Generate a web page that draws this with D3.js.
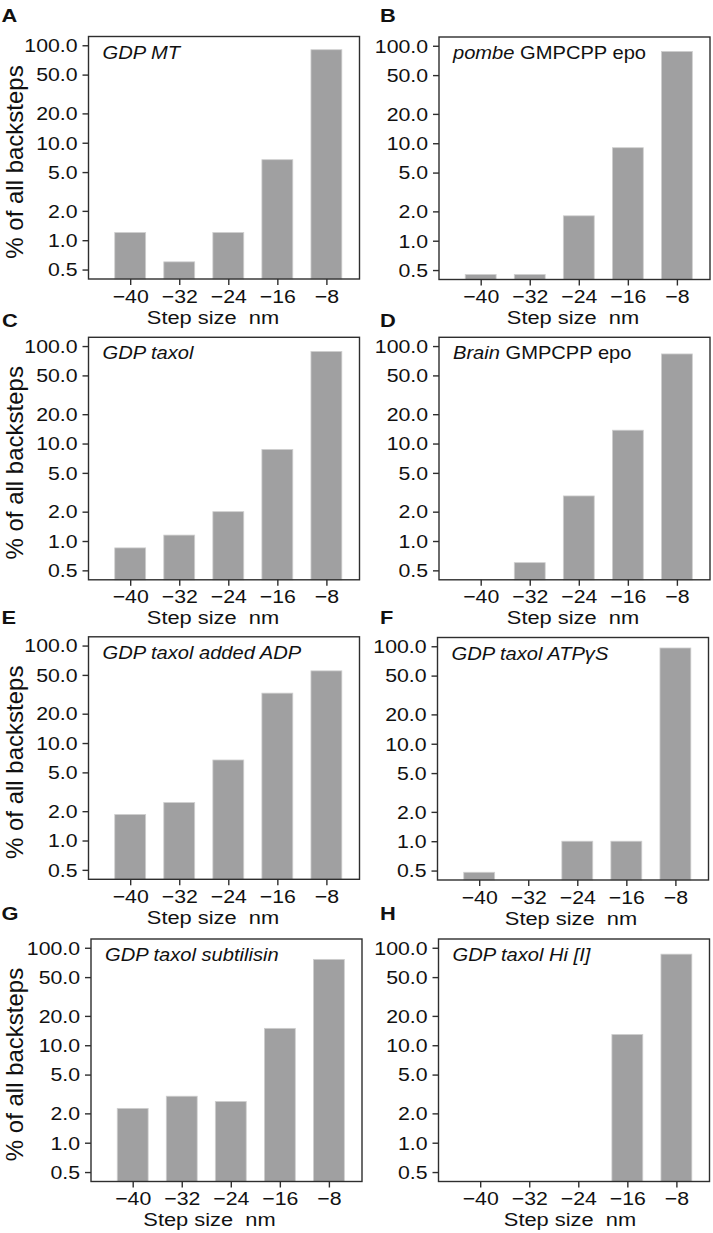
<!DOCTYPE html>
<html>
<head>
<meta charset="utf-8">
<script src="https://cdn.jsdelivr.net/npm/d3@7"></script>
<style>
  html, body { margin: 0; padding: 0; background: #fff; }
  svg { display: block; font-family: "Liberation Sans", Arial, Helvetica, sans-serif; }
</style>
</head>
<body>
<svg id="chart" width="713" height="1233"></svg>
<script>
// ---- data ----
const categories = [-40, -32, -24, -16, -8];
const yTickValues = [0.5, 1, 2, 5, 10, 20, 50, 100];
const yTickLabels = ["0.5", "1.0", "2.0", "5.0", "10.0", "20.0", "50.0", "100.0"];
const xTickLabels = ["\u221240", "\u221232", "\u221224", "\u221216", "\u22128"];
const panelLetters = ["A", "B", "C", "D", "E", "F", "G", "H"];
const xAxisTitle = "Step size  nm";
const yAxisTitle = "% of all backsteps";

// percent of all backsteps per step size (null = no bar)
const valuesA = [1.2, 0.6, 1.2, 6.7, 90];
const valuesB = [0.45, 0.45, 1.8, 9.0, 87.5];
const valuesC = [0.85, 1.15, 2.0, 8.7, 88];
const valuesD = [null, 0.6, 2.9, 13.7, 83];
const valuesE = [1.85, 2.45, 6.7, 32.5, 55];
const valuesF = [0.48, null, 1.0, 1.0, 96];
const valuesG = [2.25, 3.0, 2.65, 14.9, 76];
const valuesH = [null, null, null, 12.9, 86];

// panel titles: [text, italic?] segments
const titleA = [["GDP MT", true]];
const titleB = [["pombe", true], [" GMPCPP epo", false]];
const titleC = [["GDP taxol", true]];
const titleD = [["Brain", true], [" GMPCPP epo", false]];
const titleE = [["GDP taxol added ADP", true]];
const titleF = [["GDP taxol ATP\u03B3S", true]];
const titleG = [["GDP taxol subtilisin", true]];
const titleH = [["GDP taxol Hi [I]", true]];

const panelValues = [valuesA, valuesB, valuesC, valuesD, valuesE, valuesF, valuesG, valuesH];
const panelTitles = [titleA, titleB, titleC, titleD, titleE, titleF, titleG, titleH];

// ---- layout (positions, not data) ----
const W = 271, H = 242.5;
const SX = 1.15; // horizontal text stretch
const layout = [
  {left: 88.5, top: 36.5, lx: 1.5, ly: 22,    xl: 213},
  {left: 439,  top: 37,   lx: 380, ly: 22,    xl: 573},
  {left: 88.5, top: 337.3,lx: 2,   ly: 327,   xl: 213},
  {left: 439,  top: 337.3,lx: 380, ly: 327,   xl: 573},
  {left: 88.5, top: 636.8,lx: 1.5, ly: 623.5, xl: 213},
  {left: 437.5,top: 637.5,lx: 380, ly: 623.5, xl: 571},
  {left: 91,   top: 939,  lx: 1.5, ly: 919.5, xl: 209.5},
  {left: 438.5,top: 939,  lx: 380, ly: 919.5, xl: 570}
];

const svg = d3.select("#chart");
svg.append("rect").attr("width", 713).attr("height", 1233).attr("fill", "#fff");

const x = d3.scaleLinear().domain([-46.8, -2.6]).range([0, W]);
const y = d3.scaleLog().domain([0.4, 123]).range([H, 0]);
const halfBar = 2.52;

panelValues.forEach((vals, i) => {
  const L = layout[i];
  const col = i % 2;

  // panel letter
  svg.append("text")
    .attr("transform", `translate(${L.lx},${L.ly}) scale(${SX},1)`)
    .attr("font-size", 19).attr("font-weight", "bold").attr("fill", "#111")
    .text(panelLetters[i]);

  const g = svg.append("g").attr("transform", `translate(${L.left},${L.top})`);

  // bars
  const data = categories.map((c, k) => ({c, v: vals[k]})).filter(d => d.v != null && d.v > 0);
  g.selectAll("rect.bar").data(data).enter().append("rect")
    .attr("class", "bar")
    .attr("x", d => x(d.c - halfBar))
    .attr("width", d => x(d.c + halfBar) - x(d.c - halfBar))
    .attr("y", d => y(d.v))
    .attr("height", d => H - y(d.v))
    .attr("fill", "#a0a0a1")
    .attr("stroke", "#cfcfcf").attr("stroke-width", 0.8);

  // frame
  g.append("rect").attr("x", 0).attr("y", 0).attr("width", W).attr("height", H)
    .attr("fill", "none").attr("stroke", "#2e2e2e").attr("stroke-width", 1.4);

  // y axis
  const ya = g.append("g").call(
    d3.axisLeft(y).tickValues(yTickValues)
      .tickFormat((d, k) => yTickLabels[k]).tickSize(6).tickSizeOuter(0));
  ya.select(".domain").remove();
  ya.selectAll(".tick line").attr("stroke", "#2e2e2e").attr("stroke-width", 1.4);
  ya.selectAll(".tick text")
    .attr("x", -11 / SX).attr("dy", "0.34em")
    .attr("transform", `scale(${SX},1)`)
    .attr("font-size", 18.5).attr("fill", "#111")
    .attr("font-family", "'Liberation Sans', Arial, sans-serif");

  // x axis
  const xa = g.append("g").attr("transform", `translate(0,${H})`).call(
    d3.axisBottom(x).tickValues(categories)
      .tickFormat((d, k) => xTickLabels[k]).tickSize(6).tickSizeOuter(0));
  xa.select(".domain").remove();
  xa.selectAll(".tick line").attr("stroke", "#2e2e2e").attr("stroke-width", 1.4);
  xa.selectAll(".tick text")
    .attr("y", 10.5)
    .attr("transform", `scale(${SX},1)`)
    .attr("font-size", 18.5).attr("fill", "#111")
    .attr("font-family", "'Liberation Sans', Arial, sans-serif");

  // x axis title
  svg.append("text")
    .attr("transform", `translate(${L.xl},${L.top + H + 44.5}) scale(${SX},1)`)
    .attr("text-anchor", "middle").attr("font-size", 19).attr("fill", "#111")
    .style("white-space", "pre")
    .text(xAxisTitle);

  // y axis title (left column only)
  if (col === 0) {
    svg.append("text")
      .attr("transform", `translate(22.5,${L.top + 125.5}) rotate(-90)`)
      .attr("text-anchor", "middle").attr("font-size", 24).attr("fill", "#111")
      .text(yAxisTitle);
  }

  // panel title
  const t = g.append("text")
    .attr("transform", `translate(14,22) scale(${SX},1)`)
    .attr("font-size", 17.5).attr("fill", "#111")
    .style("white-space", "pre");
  panelTitles[i].forEach(seg => {
    t.append("tspan").attr("font-style", seg[1] ? "italic" : "normal").text(seg[0]);
  });
});
</script>
</body>
</html>
